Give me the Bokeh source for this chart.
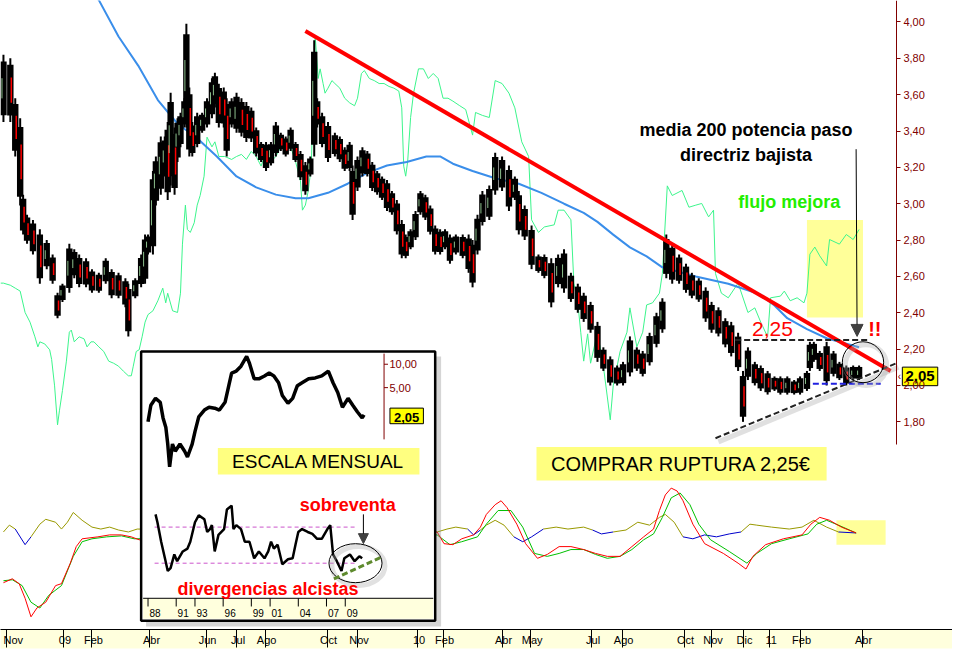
import numpy as np
from bokeh.plotting import figure
from bokeh.models import (Range1d, FixedTicker, CustomJSTickFormatter, Label, Arrow,
                          NormalHead, LogScale)
from bokeh.embed import file_html
from bokeh.resources import INLINE
from bokeh.core.properties import value

FONT = "Liberation Sans"

# ---------------- main price (daily) ----------------
dia = [3, 10, 15, 20, 23, 27, 33, 40, 47, 53,
       58, 63, 70, 75, 80, 87, 93, 100, 107, 113,
       120, 127, 130, 137, 143, 147, 150, 155, 158, 163,
       167, 170, 173, 177, 180, 183, 187, 189, 192, 195,
       200, 205, 210, 215, 218, 222, 227, 230, 235, 240,
       245, 250, 255, 260, 265, 270, 275, 280, 285, 290,
       295, 300, 305, 310, 315, 319, 322, 327, 333, 340,
       345, 350, 355, 358, 363, 368, 373, 378, 383, 388,
       393, 398, 403, 408, 412, 417, 422, 427, 432, 437,
       442, 447, 452, 457, 463, 470, 476, 480, 485, 490,
       497, 503, 510, 517, 523, 527, 533, 540, 547, 553,
       560, 567, 573, 580, 587, 593, 600, 607, 613, 620,
       627, 633, 640, 647, 653, 660, 667, 673, 677, 683,
       690, 697, 703, 710, 717, 723, 730, 737, 743, 750,
       755, 760, 767, 773, 780, 787, 793, 800, 807, 813,
       820, 823, 827, 833, 840, 847, 853, 860, 867, 873]
maximo = [3.82, 3.80, 3.58, 3.47, 3.05, 2.94, 2.91, 2.86, 2.80, 2.72,
          2.51, 2.56, 2.78, 2.75, 2.72, 2.70, 2.64, 2.62, 2.70, 2.64,
          2.62, 2.59, 2.56, 2.59, 2.72, 2.83, 2.83, 3.18, 3.26, 3.37,
          3.37, 3.45, 3.61, 3.42, 3.47, 3.50, 3.58, 3.99, 3.64, 3.45,
          3.50, 3.50, 3.58, 3.69, 3.72, 3.66, 3.64, 3.58, 3.58, 3.61,
          3.58, 3.56, 3.53, 3.42, 3.34, 3.34, 3.34, 3.45, 3.39, 3.37,
          3.42, 3.34, 3.29, 3.23, 3.26, 3.90, 3.58, 3.50, 3.45, 3.39,
          3.37, 3.31, 3.34, 3.21, 3.26, 3.31, 3.29, 3.23, 3.18, 3.15,
          3.13, 3.07, 3.02, 2.91, 2.83, 2.86, 2.96, 3.07, 3.05, 2.99,
          2.88, 2.86, 2.86, 2.83, 2.83, 2.83, 2.83, 2.80, 2.94, 3.07,
          3.10, 3.28, 3.26, 3.21, 3.15, 3.07, 2.99, 2.88, 2.72, 2.72,
          2.70, 2.72, 2.75, 2.62, 2.56, 2.51, 2.46, 2.35, 2.21, 2.16,
          2.11, 2.13, 2.27, 2.21, 2.19, 2.29, 2.40, 2.48, 2.83, 2.78,
          2.72, 2.67, 2.62, 2.59, 2.54, 2.46, 2.43, 2.37, 2.35, 2.29,
          2.08, 2.21, 2.13, 2.11, 2.08, 2.05, 2.05, 2.05, 2.03, 2.05,
          2.08, 2.24, 2.24, 2.19, 2.24, 2.19, 2.13, 2.11, 2.11, 2.11]
minimo = [3.45, 3.45, 3.26, 2.99, 2.83, 2.78, 2.72, 2.56, 2.64, 2.56,
          2.37, 2.46, 2.51, 2.59, 2.54, 2.54, 2.51, 2.51, 2.56, 2.48,
          2.48, 2.43, 2.27, 2.48, 2.54, 2.56, 2.72, 2.72, 2.99, 3.05,
          3.15, 3.02, 3.10, 3.05, 3.23, 3.31, 3.42, 3.42, 3.26, 3.26,
          3.31, 3.39, 3.42, 3.47, 3.53, 3.42, 3.42, 3.26, 3.42, 3.39,
          3.37, 3.34, 3.34, 3.26, 3.23, 3.18, 3.21, 3.26, 3.29, 3.26,
          3.29, 3.23, 3.13, 3.05, 3.15, 3.26, 3.42, 3.31, 3.23, 3.26,
          3.23, 3.18, 3.18, 2.91, 3.07, 3.15, 3.15, 3.07, 3.05, 3.02,
          2.96, 2.94, 2.83, 2.70, 2.70, 2.75, 2.80, 2.94, 2.91, 2.83,
          2.72, 2.72, 2.75, 2.67, 2.72, 2.70, 2.62, 2.54, 2.72, 2.88,
          2.91, 3.05, 3.07, 2.96, 3.02, 2.83, 2.80, 2.64, 2.62, 2.59,
          2.43, 2.54, 2.51, 2.46, 2.40, 2.35, 2.29, 2.13, 2.08, 2.00,
          2.00, 2.00, 2.05, 2.08, 2.05, 2.11, 2.21, 2.29, 2.59, 2.56,
          2.56, 2.51, 2.48, 2.46, 2.35, 2.29, 2.27, 2.21, 2.16, 2.08,
          1.80, 2.03, 2.00, 1.97, 1.95, 1.97, 1.95, 1.95, 1.95, 1.95,
          1.97, 2.08, 2.13, 2.08, 2.00, 2.05, 2.03, 2.00, 2.03, 2.03]

# 200-session moving average
ma_dia = [95, 100, 120, 140, 160, 180, 200, 220, 240, 260, 280, 300, 313, 333, 353, 373,
          393, 413, 433, 447, 460, 480, 503, 527, 550, 573, 593, 607, 623, 640, 657, 673,
          707, 740, 773, 787, 800, 820, 840, 873]
ma200 = [4.15, 4.12, 3.92, 3.76, 3.57, 3.44, 3.36, 3.26, 3.15, 3.09, 3.05, 3.03, 3.03, 3.06,
         3.11, 3.17, 3.21, 3.23, 3.26, 3.26, 3.22, 3.18, 3.14, 3.11, 3.06, 3.00, 2.95, 2.90,
         2.83, 2.76, 2.71, 2.65, 2.60, 2.56, 2.50, 2.44, 2.37, 2.31, 2.26, 2.21]

# money flow (no scale shown, 0-100)
flujo_dia = [0, 3, 10, 15, 20, 25, 30, 35, 38, 40,
             45, 50, 52, 55, 58, 60, 63, 67, 70, 72,
             75, 80, 85, 88, 92, 95, 100, 105, 110, 115,
             120, 125, 130, 133, 135, 138, 141, 144, 147, 150,
             155, 160, 165, 168, 170, 175, 180, 183, 185, 188,
             190, 193, 197, 200, 203, 207, 210, 215, 218, 222,
             228, 235, 240, 245, 250, 255, 260, 265, 270, 275,
             280, 285, 290, 295, 300, 305, 307, 310, 313, 316,
             318, 320, 323, 325, 328, 330, 333, 337, 340, 345,
             350, 355, 360, 363, 367, 370, 375, 380, 385, 390,
             395, 400, 405, 408, 410, 412, 414, 417, 420, 425,
             430, 435, 440, 445, 450, 455, 460, 467, 473, 480,
             483, 490, 497, 503, 510, 517, 523, 530, 537, 540,
             547, 553, 563, 567, 573, 580, 583, 587, 590, 593,
             597, 600, 607, 613, 620, 623, 630, 637, 640, 647,
             653, 657, 663, 670, 673, 678, 683, 693, 700, 707,
             713, 720, 725, 727, 733, 740, 750, 760, 767, 773,
             780, 783, 793, 797, 803, 810, 817, 820, 823, 828,
             833, 840, 843, 853, 860, 867, 873]
flujo = [41.9, 41.9, 41.4, 40.7, 40.0, 34.9, 32.6, 29.1, 26.7, 27.9,
         27.4, 26.0, 23.7, 17.4, 8.1, 11.6, 16.3, 23.3, 30.2, 30.7,
         27.9, 29.1, 28.6, 26.7, 27.9, 27.9, 26.7, 25.6, 23.3, 22.8,
         22.1, 20.9, 19.8, 19.8, 22.1, 25.6, 26.0, 29.1, 32.6, 34.4,
         35.3, 37.7, 40.7, 37.2, 39.5, 35.3, 34.9, 39.5, 51.2, 60.5,
         54.7, 54.0, 56.3, 60.5, 62.8, 67.4, 76.7, 74.4, 75.6, 72.1,
         72.1, 71.4, 72.1, 72.6, 71.4, 73.3, 72.1, 69.8, 73.3, 70.9,
         72.1, 74.4, 73.3, 74.4, 70.9, 66.3, 59.3, 60.5, 64.0, 69.8,
         86.0, 100.7, 90.7, 93.0, 89.5, 87.2, 88.4, 90.2, 89.5, 88.4,
         86.0, 84.9, 84.2, 86.0, 91.9, 92.6, 90.7, 90.2, 89.5, 89.5,
         88.8, 88.4, 87.7, 83.7, 69.8, 67.4, 70.9, 81.4, 87.2, 93.0,
         93.0, 90.7, 91.9, 90.7, 86.0, 86.0, 85.3, 84.2, 83.3, 77.2,
         82.6, 81.9, 81.4, 90.2, 89.5, 87.2, 83.7, 75.6, 72.1, 57.0,
         54.0, 55.3, 55.8, 59.3, 59.3, 57.0, 41.9, 37.2, 30.2, 23.3,
         29.8, 22.8, 30.2, 22.1, 9.3, 17.4, 25.6, 30.2, 36.0, 26.7,
         30.2, 36.7, 37.2, 39.5, 44.2, 65.1, 62.8, 64.0, 60.0, 60.5,
         60.9, 57.7, 59.3, 44.2, 39.5, 38.4, 41.9, 34.9, 36.0, 32.6,
         29.1, 38.4, 38.8, 40.0, 37.7, 38.4, 37.2, 39.5, 48.8, 50.5,
         48.4, 46.0, 52.3, 51.2, 53.5, 52.3, 54.7]

# lower oscillator panel
rojo_dia = [3, 12, 19, 25, 31, 37, 46, 56, 62, 71,
            77, 83, 99, 111, 123, 133, 141, 444, 451, 460,
            469, 481, 488, 494, 503, 509, 515, 525, 534, 546,
            556, 568, 580, 593, 605, 617, 630, 642, 654, 664,
            670, 676, 682, 688, 694, 704, 716, 735, 750, 758,
            765, 778, 796, 815, 824, 833, 843, 855, 870]
rojo = [-73.5, -67.5, -75, -97.5, -126, -112.5, -103.5, -78, -75, -43.5,
        -18, -6, -3, 0, 0, -3, -7.5, 4.5, -13.5, -15,
        -6, 0, 12, 31.5, 46.5, 52.5, 42, 16.5, -13.5, -36,
        -30, -18, -18, -22.5, -28.5, -33, -33, -18, -3, 9,
        37.5, 61.5, 72, 67.5, 52.5, 16.5, -13.5, -28.5, -43.5, -52.5,
        -33, -15, -6, 0, 16.5, 27, 22.5, 12, 3]
verde_dia = [3, 12, 22, 31, 40, 49, 62, 74, 83, 93,
             108, 123, 136, 444, 457, 469, 485, 494, 506, 519,
             531, 543, 556, 568, 580, 593, 605, 617, 630, 642,
             654, 664, 673, 682, 691, 701, 710, 722, 741, 759,
             769, 784, 802, 821, 830, 840, 852, 870]
verde = [-70.5, -69, -78, -103.5, -112.5, -93, -78, -33, -10.5, -6,
         -3, -1.5, -6, 0, -15, -10.5, -3, 16.5, 37.5, 37.5,
         12, -28.5, -33, -28.5, -22.5, -22.5, -30, -36, -33, -22.5,
         -7.5, 1.5, 27, 57, 64.5, 46.5, 16.5, -7.5, -25.5, -43.5,
         -28.5, -13.5, -6, 1.5, 16.5, 22.5, 15, 3]
tercera_dia = [3, 9, 15, 25, 31, 40, 46, 56, 62, 68,
               74, 83, 93, 102, 111, 120, 130, 139, 444, 454,
               463, 475, 481, 488, 494, 503, 512, 522, 531, 540,
               552, 565, 577, 593, 602, 611, 623, 636, 648, 660,
               670, 676, 685, 694, 704, 716, 728, 741, 753, 762,
               769, 784, 802, 815, 827, 840, 852, 870]
tercera = [4.5, 15, 9, -15, -3, 16.5, 24, 19.5, 9, 19.5,
           34.5, 22.5, 12, 9, 12, 7.5, 4.5, 9, 4.5, 9,
           12, 9, 0, 7.5, 15, 22.5, 15, -3, -10.5, -3,
           9, 12, 9, 12, 7.5, 1.5, 4.5, 7.5, 19.5, 15,
           27, 31.5, 19.5, -3, -6, 0, -3, 1.5, 4.5, 16.5,
           15, 12, 9, 12, 22.5, 12, 4.5, 3]

# x-axis months
mes_pos = [6, 64, 93, 152, 209, 240, 269, 332, 363, 424, 450, 510, 539, 601, 632,
           695, 723, 755, 782, 813, 876]
mes_txt = ["Nov", "09", "Feb", "Abr", "Jun", "Jul", "Ago", "Oct", "Nov", "10", "Feb",
           "Abr", "May", "Jul", "Ago", "Oct", "Nov", "Dic", "11", "Feb", "Abr"]
precio_ticks = [1.8, 2.0, 2.2, 2.4, 2.6, 2.8, 3.0, 3.2, 3.4, 3.6, 3.8, 4.0]

# ---------------- monthly inset ----------------
anio = [1988.0, 1988.3, 1988.8, 1989.3, 1989.6, 1989.9, 1990.1, 1990.3, 1990.6, 1990.9,
        1991.4, 1991.9, 1992.2, 1992.7, 1993.0, 1993.4, 1994.0, 1994.5, 1995.1, 1995.6,
        1996.2, 1996.6, 1996.9, 1997.4, 1997.9, 1998.5, 1998.8, 1999.3, 1999.8, 2000.4,
        2000.9, 2001.4, 2001.9, 2002.3, 2002.9, 2003.4, 2003.9, 2004.4, 2005.1, 2005.8,
        2006.5, 2007.2, 2007.7, 2008.2, 2008.7, 2009.3, 2009.8, 2010.3, 2010.8, 2011.0]
mensual = [1.82, 2.97, 3.64, 3.24, 2.04, 1.53, 0.94, 0.48, 0.94, 0.76,
           0.94, 0.76, 0.64, 0.94, 1.36, 2.10, 2.57, 2.80, 2.72, 2.57,
           3.24, 5.30, 7.71, 8.17, 9.44, 12.6, 10.3, 6.49, 6.49, 7.07,
           7.71, 7.07, 5.78, 3.97, 3.15, 3.64, 5.30, 5.78, 6.49, 6.67,
           7.07, 8.17, 5.78, 4.33, 2.80, 3.64, 2.97, 2.43, 2.04, 2.23]
rsi_anio = [1988.8, 1989.0, 1989.4, 1989.8, 1990.1, 1990.4, 1990.8, 1991.1, 1991.7, 1992.2,
            1992.5, 1993.0, 1993.4, 1994.0, 1994.3, 1994.6, 1994.8, 1995.1, 1995.5, 1996.1,
            1996.4, 1996.9, 1997.1, 1997.4, 1997.9, 1998.3, 1998.8, 1999.3, 1999.8, 2000.4,
            2000.8, 2001.1, 2001.4, 2001.8, 2002.3, 2002.9, 2003.4, 2003.7, 2004.0, 2004.4,
            2005.0, 2005.5, 2006.0, 2006.5, 2007.1, 2007.4, 2007.7, 2008.1, 2008.6, 2008.9,
            2009.5, 2010.0, 2010.5, 2010.8]
rsi = [84.1, 75.4, 53.8, 35.4, 21.4, 24.6, 39.7, 32.2, 43.0, 46.2,
       53.8, 75.4, 83.0, 78.6, 64.6, 67.8, 72.2, 43.0, 61.4, 67.8,
       89.5, 93.8, 67.8, 72.2, 67.8, 53.8, 53.8, 35.4, 43.0, 35.4,
       43.0, 53.8, 46.2, 50.5, 28.9, 34.3, 35.4, 50.5, 64.6, 67.8,
       64.6, 62.4, 57.0, 57.0, 67.8, 72.2, 39.7, 32.2, 21.4, 35.4,
       39.7, 32.2, 37.6, 35.4]
inset_anios = [1988, 1991, 1993, 1996, 1999, 2001, 2004, 2007, 2009]
inset_txt = ["88", "91", "93", "96", "99", "01", "04", "07", "09"]
inset_ticks = [10.0, 5.0]
inset_ticks_txt = ["10,00", "5,00"]

ultimo = 2.05
resistencia = 2.25
soporte = 2.01

# ---------------- figure ----------------
p = figure(width=952, height=649, output_backend="svg", toolbar_location=None,
           x_range=Range1d(0, 968), y_range=Range1d(0.6576, 4.118),
           y_axis_location="right", min_border_left=0, min_border_top=0,
           min_border_right=0, min_border_bottom=20, outline_line_color=None,
           background_fill_color="white", border_fill_color="white")
p.grid.visible = False
p.extra_y_ranges = {"flujo": Range1d(-40.70, 109.30), "osc": Range1d(-145.5, 822.0),
                    "irsi": Range1d(-43.5, 653.7), "ilog": Range1d(10 ** -2.413, 10 ** 5.680)}
p.extra_y_scales = {"ilog": LogScale()}
p.extra_x_ranges = {"ix": Range1d(1972.293, 2073.654)}

# right price axis, drawn at a fixed position inside the plot
ya = p.yaxis[0]
ya.fixed_location = 911
ya.ticker = FixedTicker(ticks=precio_ticks)
ya.formatter = CustomJSTickFormatter(code="return tick.toFixed(2).replace('.', ',');")
ya.bounds = (1.677, 4.118)
ya.axis_line_color = "#800000"
ya.major_tick_line_color = "#800000"
ya.major_tick_out = 4
ya.major_tick_in = 0
ya.minor_tick_line_color = None
ya.major_label_text_color = "#800000"
ya.major_label_text_font = FONT
ya.major_label_text_font_size = "11px"
ya.major_label_standoff = 3

# bottom month axis
xa = p.xaxis[0]
xa.ticker = FixedTicker(ticks=mes_pos)
xa.major_label_overrides = {k: "\u00a0" + t for k, t in zip(mes_pos, mes_txt)}
xa.axis_line_color = "black"
xa.major_tick_line_color = "black"
xa.major_tick_out = 18
xa.major_tick_in = 0
xa.minor_tick_line_color = None
xa.major_label_text_align = "left"
xa.major_label_standoff = -14
xa.major_label_text_font = FONT
xa.major_label_text_font_size = "11px"
xa.major_label_text_color = "black"
xa.background_fill_color = "#FFFFDD"

# yellow zone (flow improving)
p.quad(left=[820], right=[877], top=[2.911], bottom=[2.374], fill_color="#FFFF99",
       line_color=None)
# flow
p.line(flujo_dia, flujo, y_range_name="flujo", line_color="#3CF58C", line_width=1)
# 200 moving average
p.line(ma_dia, ma200, line_color="#3A8EEA", line_width=2)

# price bars
x = np.array(dia, dtype=float)
hi = np.array(maximo)
lo = np.array(minimo)
rg = hi - lo
p.segment(x0=x, y0=lo, x1=x, y1=hi, line_color="black", line_width=2)
p.vbar(x=x, bottom=lo + 0.1 * rg, top=hi - 0.1 * rg, width=6.5, fill_color="black",
       line_color=None)
mid = (hi + lo) / 2
baja = np.r_[False, mid[1:] < mid[:-1]]
p.segment(x0=x[baja] + 1, y0=(lo + 0.3 * rg)[baja], x1=x[baja] + 1,
          y1=(hi - 0.3 * rg)[baja], line_color="#FF0000", line_width=1.5)
sube = ~baja
p.segment(x0=x[sube] - 1.5, y0=(lo + 0.35 * rg)[sube], x1=x[sube] - 1.5,
          y1=(hi - 0.35 * rg)[sube], line_color="#B0F0B0", line_width=0.8)

# down trend line
p.segment(x0=[310], y0=[3.95], x1=[905], y1=[2.08], line_color="#FF0000", line_width=4)
# support / resistance
p.segment(x0=[730], y0=[1.69], x1=[913], y1=[2.10], line_color="#999999", line_width=5,
          line_alpha=0.3)
p.segment(x0=[727], y0=[1.71], x1=[910], y1=[2.12], line_color="#222222", line_width=2,
          line_dash="6 3")
p.segment(x0=[747], y0=[resistencia], x1=[882], y1=[resistencia], line_color="#222222",
          line_width=2, line_dash="6 3")
p.segment(x0=[826], y0=[soporte], x1=[895], y1=[soporte], line_color="#2020E0",
          line_width=2, line_dash="6 3")
p.ellipse(x=[880], y=[2.112], width=42, height=0.225, fill_color=None,
          line_color="#aaaaaa", line_width=5, line_alpha=0.35)
p.ellipse(x=[877], y=[2.128], width=42, height=0.225, fill_color=None,
          line_color="black", line_width=1)

# last price marker on the right axis
p.quad(left=[917], right=[953], top=[2.101], bottom=[1.999], fill_color="#FFFF00",
       line_color="black", line_width=1)
p.text(x=[935], y=[ultimo], text=["2,05"], text_font=value(FONT), text_font_size="15px",
       text_font_style="bold", text_color="black", text_align="center",
       text_baseline="middle")
p.text(x=[914], y=[ultimo], text=["‹"], text_font=value(FONT), text_font_size="10px",
       text_color="#800000", text_align="center", text_baseline="middle")

# oscillator panel
p.quad(left=[850], right=[900], top=[22.5], bottom=[-15], y_range_name="osc",
       fill_color="#FFFF99", line_color=None)
td = np.array(tercera_dia, dtype=float)
tv = np.array(tercera)
tcol = np.where((tv[:-1] + tv[1:]) / 2 >= 6, "#999900", "#0000CC")
p.segment(x0=td[:-1], y0=tv[:-1], x1=td[1:], y1=tv[1:], line_color=list(tcol),
          line_width=1, y_range_name="osc")
p.line(verde_dia, verde, y_range_name="osc", line_color="#00C000", line_width=1)
p.line(rojo_dia, rojo, y_range_name="osc", line_color="#FF0000", line_width=1)

# ---------------- inset ----------------
p.quad(left=[148], right=[448], top=[2.160], bottom=[0.674], fill_color="#888888",
       fill_alpha=0.35, line_color=None)
p.quad(left=[143], right=[442], top=[2.187], bottom=[0.706], fill_color="white",
       line_color="black", line_width=2.5)
p.line(anio, mensual, x_range_name="ix", y_range_name="ilog", line_color="black",
       line_width=3.5)
p.segment(x0=[1988.7, 1988.7], y0=[70, 30], x1=[2010.2, 2010.2], y1=[70, 30],
          x_range_name="ix", y_range_name="irsi", line_color="#CC55CC", line_width=1,
          line_dash="4 3")
p.line(rsi_anio, rsi, x_range_name="ix", y_range_name="irsi", line_color="black",
       line_width=2.5)
p.ellipse(x=[2010.4], y=[27.0], width=5.65, height=43.2, x_range_name="ix",
          y_range_name="irsi", fill_color=None, line_color="#aaaaaa", line_width=5,
          line_alpha=0.35)
p.ellipse(x=[2010.09], y=[30.0], width=5.65, height=43.2, x_range_name="ix",
          y_range_name="irsi", fill_color=None, line_color="black", line_width=1)
p.segment(x0=[2007.79], y0=[12.7], x1=[2012.82], y1=[36.5], x_range_name="ix",
          y_range_name="irsi", line_color="#5E8A2E", line_width=3, line_dash="6 3")
# inset axis band
p.quad(left=[1987.48], right=[2018.37], top=[-8.9], bottom=[-31.6], x_range_name="ix",
       y_range_name="irsi", fill_color="#FFFFDD", line_color=None)
p.segment(x0=[1987.48], y0=[-8.9], x1=[2018.37], y1=[-8.9], x_range_name="ix",
          y_range_name="irsi", line_color="black", line_width=1)
ia = np.array(inset_anios, dtype=float)
p.segment(x0=ia, y0=[-8.9] * len(ia), x1=ia, y1=[-18.0] * len(ia), x_range_name="ix",
          y_range_name="irsi", line_color="black", line_width=1)
p.text(x=ia + 0.15, y=[-25.0] * len(ia), text=inset_txt, x_range_name="ix",
       y_range_name="irsi", text_font=value(FONT), text_font_size="10px",
       text_color="black", text_align="left", text_baseline="middle")
# inset right axis
p.segment(x0=[2013.13], y0=[1.08], x1=[2013.13], y1=[13.7], x_range_name="ix",
          y_range_name="ilog", line_color="#800000", line_width=1)
p.segment(x0=[2013.13] * 2, y0=inset_ticks, x1=[2013.55] * 2, y1=inset_ticks,
          x_range_name="ix", y_range_name="ilog", line_color="#800000", line_width=1)
p.text(x=[2013.7] * 2, y=inset_ticks, text=inset_ticks_txt, x_range_name="ix",
       y_range_name="ilog", text_font=value(FONT), text_font_size="11px",
       text_color="#800000", text_align="left", text_baseline="middle")
p.quad(left=[2013.76], right=[2017.32], top=[2.725], bottom=[1.717], x_range_name="ix",
       y_range_name="ilog", fill_color="#FFFF00", line_color="black", line_width=1)
p.text(x=[2015.54], y=[ultimo], text=["2,05"], x_range_name="ix", y_range_name="ilog",
       text_font=value(FONT), text_font_size="13px", text_font_style="bold",
       text_color="black", text_align="center", text_baseline="middle")

# yellow text boxes
p.quad(left=[221], right=[426], top=[1.656], bottom=[1.511], fill_color="#FFFF80",
       line_color=None)
p.quad(left=[545], right=[840], top=[1.661], bottom=[1.478], fill_color="#FFFF80",
       line_color=None)

# ---------------- annotations ----------------
def lab(xv, yv, txt, size, color="black", bold=False, align="center"):
    p.add_layout(Label(x=xv, y=yv, text=txt, text_font=FONT, text_font_size=size,
                       text_color=color, text_font_style="bold" if bold else "normal",
                       text_align=align, text_baseline="middle"))

lab(758, 3.404, "media 200 potencia paso", "18px", bold=True)
lab(758, 3.270, "directriz bajista", "18px", bold=True)
lab(802, 3.007, "flujo mejora", "18px", color="#22EE00", bold=True)
lab(785, 2.310, "2,25", "21px", color="#FF0000")
lab(889, 2.310, "!!", "20px", color="#FF0000", bold=True)
lab(692, 1.570, "COMPRAR RUPTURA 2,25€", "20px")
lab(323, 1.583, "ESCALA MENSUAL", "19px")
lab(353, 1.344, "sobreventa", "18px", color="#FF0000", bold=True)
lab(272, 0.878, "divergencias alcistas", "18px", color="#FF0000", bold=True)

p.add_layout(Arrow(end=NormalHead(size=12, fill_color="#404040", line_color="#404040"),
                   x_start=870, y_start=3.30, x_end=871, y_end=2.27,
                   line_color="black", line_width=1))
p.add_layout(Arrow(end=NormalHead(size=10, fill_color="#404040", line_color="#404040"),
                   x_start=369, y_start=1.291, x_end=369, y_end=1.130,
                   line_color="black", line_width=1))

open("out.html", "w").write(file_html(p, INLINE))
